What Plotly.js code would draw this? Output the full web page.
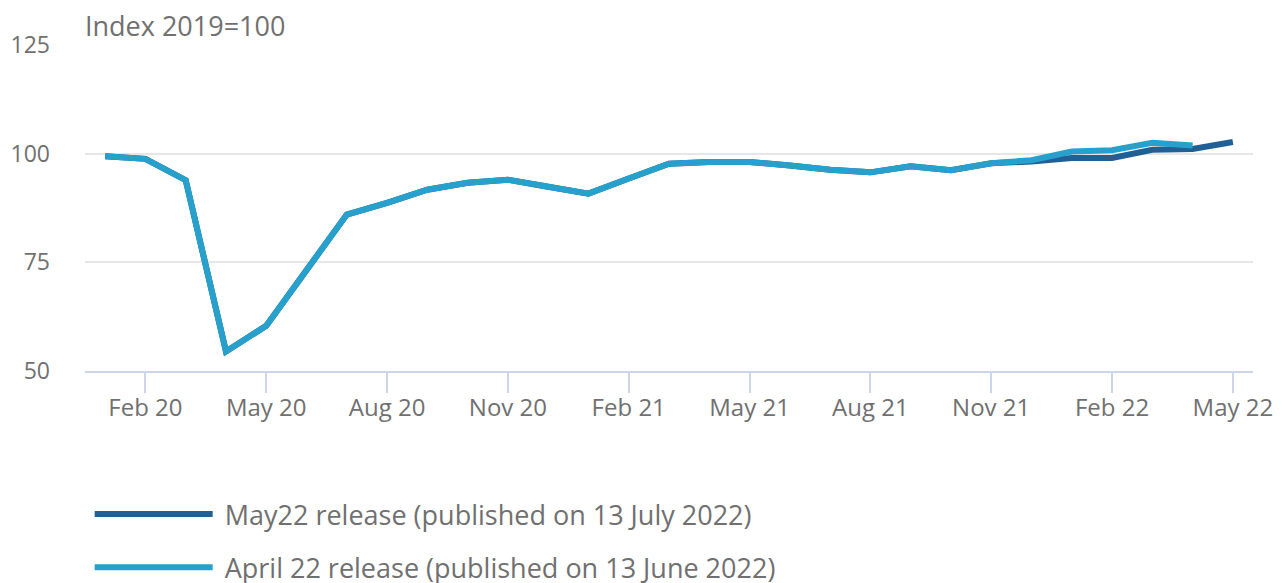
<!DOCTYPE html>
<html>
<head>
<meta charset="utf-8">
<script src="https://cdn.plot.ly/plotly-3.0.1.min.js"></script>
<style>html,body{margin:0;padding:0;background:#fff;}#chart{width:1282px;height:583px;}</style>
</head>
<body>
<div id="chart"></div>
<script>
const months = ["Jan 20","Feb 20","Mar 20","Apr 20","May 20","Jun 20","Jul 20","Aug 20","Sep 20","Oct 20","Nov 20","Dec 20",
  "Jan 21","Feb 21","Mar 21","Apr 21","May 21","Jun 21","Jul 21","Aug 21","Sep 21","Oct 21","Nov 21","Dec 21",
  "Jan 22","Feb 22","Mar 22","Apr 22","May 22"];
const may22Release = [99.4,98.8,93.9,54.5,60.4,73.2,86.0,88.7,91.7,93.3,94.0,92.4,
  90.8,94.3,97.7,98.1,98.1,97.3,96.3,95.7,97.1,96.2,97.8,98.2,
  99.0,99.0,100.9,101.1,102.7];
const april22Release = [99.4,98.8,93.9,54.5,60.4,73.2,86.0,88.7,91.7,93.3,94.0,92.4,
  90.8,94.3,97.7,98.1,98.1,97.3,96.3,95.7,97.1,96.2,97.8,98.5,
  100.5,100.8,102.5,101.9];
const tickLabels = ["Feb 20","May 20","Aug 20","Nov 20","Feb 21","May 21","Aug 21","Nov 21","Feb 22","May 22"];
const yTicks = [50,75,100,125];

const grey = '#707070';
const traces = [
  {x: months, y: may22Release, type:'scatter', mode:'lines', name:'\u00a0May22 release (published on 13 July 2022)',
   line:{color:'#206095', width:6}, legendgroup:'a', hoverinfo:'x+y'},
  {x: months.slice(0, april22Release.length), y: april22Release, type:'scatter', mode:'lines', name:'\u00a0April 22 release (published on 13 June 2022)',
   line:{color:'#27a0cc', width:6}, legendgroup:'b', hoverinfo:'x+y'}
];
const layout = {
  width:1282, height:583,
  margin:{l:85, r:29, t:45, b:212, autoexpand:false},
  paper_bgcolor:'#fff', plot_bgcolor:'#fff',
  font:{family:'"Open Sans", sans-serif', color:grey, size:23},
  title:{text:'Index 2019=100', font:{size:27, color:grey}, xref:'paper', x:0, xanchor:'left', yref:'container', y:1-27/583, yanchor:'middle'},
  xaxis:{type:'category', range:[-0.5, 28.5], tickmode:'array', tickvals:tickLabels, ticktext:tickLabels,
    showgrid:false, showline:true, linecolor:'#ccd6eb', linewidth:2, ticks:'outside', ticklen:20, tickcolor:'#ccd6eb', tickwidth:2,
    tickfont:{size:24, color:grey}, ticklabelstandoff:-6, zeroline:false, fixedrange:true},
  yaxis:{range:[50,125], tickmode:'array', tickvals:yTicks, showgrid:true, gridcolor:'#e6e6e6', gridwidth:2,
    zeroline:false, showline:false, ticks:'', ticklabelstandoff:34, tickfont:{size:23, color:grey}, fixedrange:true},
  showlegend:true,
  legend:{orientation:'v', x:0.004, xanchor:'left', yref:'container', y:1-490/583, yanchor:'top', traceorder:'grouped', tracegroupgap:15,
    itemwidth:118, font:{size:27, color:grey}, bgcolor:'rgba(0,0,0,0)'}
};
Plotly.newPlot('chart', traces, layout, {displayModeBar:false, staticPlot:true});
</script>
</body>
</html>
